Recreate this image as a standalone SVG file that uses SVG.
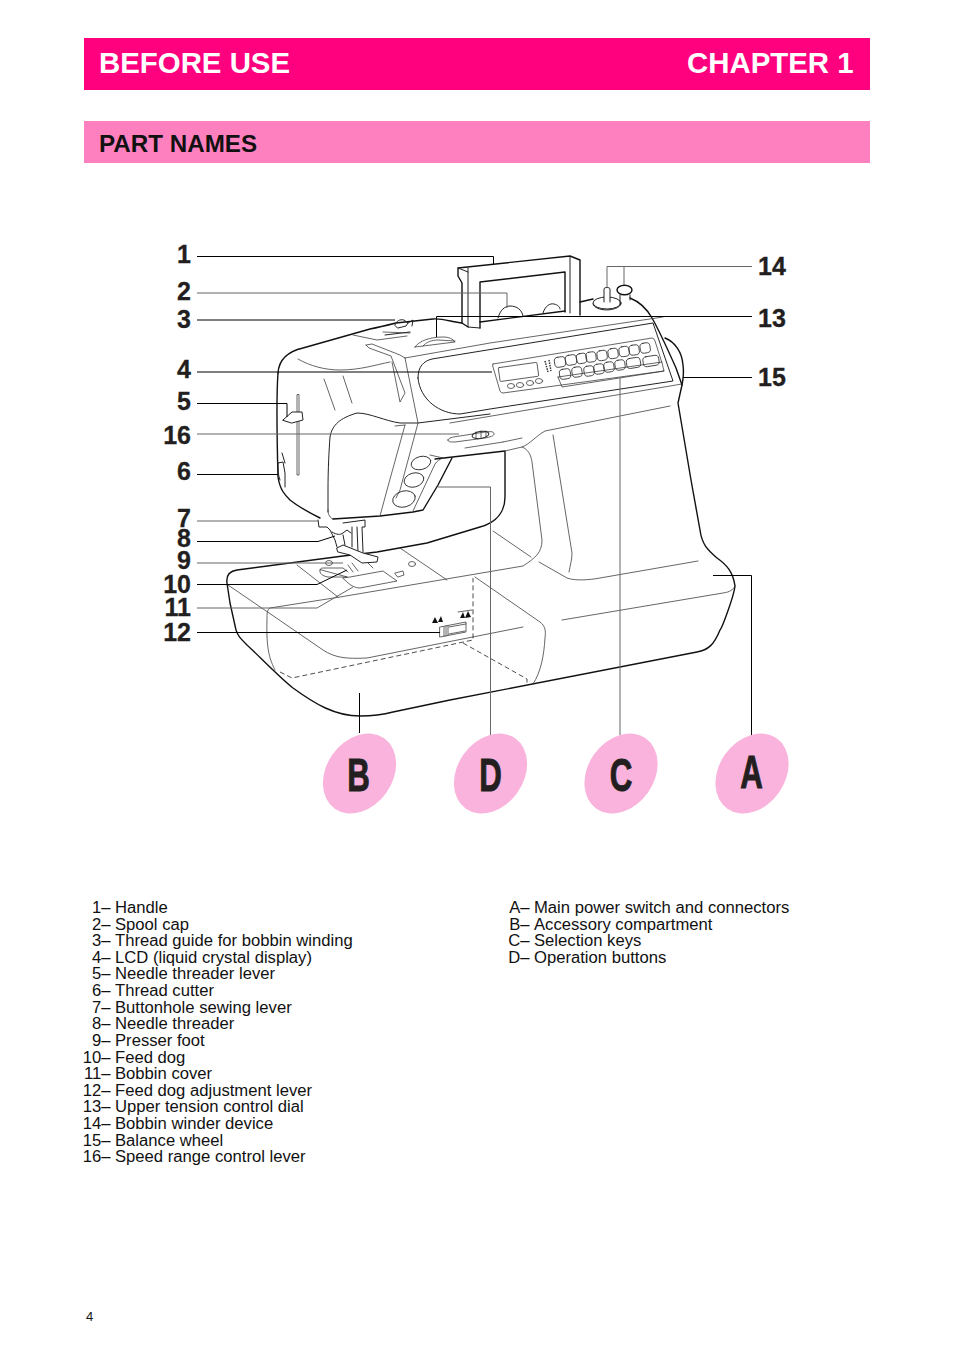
<svg xmlns="http://www.w3.org/2000/svg" width="954" height="1348" viewBox="0 0 954 1348">
<style>
text{font-family:"Liberation Sans",Arial,sans-serif;fill:#231f20}
.hd{font-weight:700;font-size:29.4px;fill:#fff}
.sec{font-weight:700;font-size:24.2px;fill:#111}
.n{font-weight:700;font-size:25px;stroke:#231f20;stroke-width:.3}
.l{font-size:16.65px;fill:#111}
.e{text-anchor:end}
.let{font-weight:700;font-size:46px;text-anchor:middle;stroke:#231f20;stroke-width:1}
.k{fill:none;stroke:#111;stroke-width:1.4;stroke-linejoin:round;stroke-linecap:round}
.t{fill:none;stroke:#333;stroke-width:.75;stroke-linejoin:round;stroke-linecap:round}
.m{fill:none;stroke:#222;stroke-width:1;stroke-linejoin:round;stroke-linecap:round}
.d{fill:none;stroke:#222;stroke-width:.8;stroke-dasharray:5 3}
.c{fill:none;stroke:#000;stroke-width:1}
.g{stroke:#666}
.blob{fill:#f9b3dc}
</style>
<rect x="84" y="38" width="786" height="52" fill="#ff007f"/>
<text class="hd" x="99" y="73">BEFORE USE</text>
<text class="hd" x="687" y="73">CHAPTER 1</text>
<rect x="84" y="121" width="786" height="42" fill="#ff80bf"/>
<text class="sec" x="99" y="152">PART NAMES</text>

<g id="machine">
<!-- main outline -->
<path class="k" d="M462,323V283L458,276V268L570,256L580,260V315"/>
<path class="k" d="M480,328V282L565,272V312"/>
<path class="m" d="M468,268V327L480,328M570,257V313M458,268L468,272"/>
<path class="k" d="M278,373C279,358 290,351 303,348L370,329C380,327 388,325 396,323L433,319C442,318 452,322 462,323L468,327"/>
<path class="k" d="M480,322L565,311M580,302L593,299M630,298C640,302 647,309 652,318C660,332 668,350 676,368L682,385L678,403L691,480L700,530C702,545 708,550 717,558C727,565 733,572 735,586C734,596 722,628 720,630C714,645 708,650 697,652L450,700L393,712C378,716 368,716 360,716C335,716 315,704 293,688C280,678 258,655 247,645C240,638 238,636 236,630L230,603L227,583C226,575 230,571 237,570L343,556L377,552L427,543L480,527C498,522 505,510 505,497V452"/>
<path class="k" d="M278,373C276,400 277,440 278,477C280,490 285,495 290,500C300,508 310,513 320,518"/>
<path class="k" d="M435,459L505,451"/>
<path class="k" d="M333,519L380,516L413,512L423,510L438,485L452,458"/>
<path class="k" d="M665,338C675,342 682,352 683,365C684,372 683,380 682,385"/>
<!-- head details -->
<path class="t" d="M298,359C310,366 325,370 340,370C360,370 375,365 390,362M324,379L335,410M343,376L352,403"/>
<path class="t" d="M366,345L372,344L400,355L405,358M366,345L369,348L391,356L405,393L400,402L392,362M405,358L418,423L400,490L396,498M405,358L490,343L663,317M405,425L387,490L380,516"/>
<path class="m" d="M328,512V490C328,470 329,450 330,437C332,425 340,418 357,413C370,413 385,421 400,423L418,423L490,414"/>
<path class="t" d="M328,510C328,515 330,518 333,519"/>
<path class="t" d="M405,425L395,426"/>
<!-- needle threader lever -->
<path class="t" d="M297,395V475L299,475V395Z"/>
<path class="m" style="fill:#fff" d="M283,420L292,412H302L303,420L292,423Z"/>
<path class="m" d="M278,463C278,470 278,475 280,480M278,463L283,462L285,473V487M282,453L285,463"/>
<!-- thread guide -->
<path class="m" d="M395,325C396,321 400,319 404,320L408,323L406,326L398,328ZM408,323L413,320L412,326M385,335L410,332"/>
<path class="t" d="M353,335L377,340L407,336M383,332L410,333"/>
<path class="t" d="M415,347C419,341 430,337 443,337C449,337 453,339 455,342L415,347ZM423,346C426,342 432,340 438,340L455,341"/>
<!-- spool caps -->
<path class="m" d="M498,318C500,310 505,306 510,306C517,306 522,310 523,316M543,313C545,306 550,303 554,304C558,305 560,307 560,309"/>
<!-- winder -->
<ellipse class="m" cx="607" cy="303" rx="14" ry="6"/>
<path class="m" d="M593,304C595,312 618,312 621,304"/>
<path class="m" style="fill:#fff" d="M604,302V289C604,287 610,287 610,289V302"/>
<path class="m" d="M620,295V305M630,295V300"/>
<ellipse class="k" style="fill:#fff" cx="624.500" cy="290" rx="7.500" ry="4.800"/>
<!-- panel -->
<path class="m" d="M418,378C418,366 424,361 432,359L653,323L673,381L490,409L460,414C440,414 420,400 418,378Z"/>
<path class="t" d="M450,423L682,384"/>
<path class="t" d="M493,364L652,338Q654,338 655,341L662,363L664,371L503,393Q501,393 500,391L493,367Q492,364 493,364Z"/>
<path class="t" d="M558,377L562,387L664,371M558,377L662,362"/>
<rect class="t" x="499" y="365" width="39" height="14" rx="1" transform="rotate(-8 518 372)"/>
<g id="small-ovals"><ellipse class="t" cx="511" cy="386" rx="3.600" ry="2.500"/><ellipse class="t" cx="520" cy="385" rx="3.600" ry="2.500"/><ellipse class="t" cx="530" cy="383" rx="3.600" ry="2.500"/><ellipse class="t" cx="539" cy="381" rx="3.600" ry="2.500"/></g>
<path class="t" style="stroke-width:1.5;stroke-dasharray:1.500 1;stroke-linecap:butt" d="M545,361L548,372M549,360L551,371"/>
<g id="keys" class="t" style="stroke-width:.85">
<rect x="554.500" y="357" width="11" height="10" rx="3.500" transform="rotate(-9 560 362)"/>
<rect x="565.500" y="355" width="11" height="10" rx="3.500" transform="rotate(-9 571 360)"/>
<rect x="576.500" y="353.500" width="10" height="10" rx="3.500" transform="rotate(-9 581 358)"/>
<rect x="586" y="352" width="10" height="10" rx="3.500" transform="rotate(-9 591 357)"/>
<rect x="597" y="350.500" width="10" height="10" rx="3.500" transform="rotate(-9 602 355)"/>
<rect x="608" y="348.500" width="10" height="10" rx="3.500" transform="rotate(-9 613 353)"/>
<rect x="619" y="346.500" width="10" height="10" rx="3.500" transform="rotate(-9 624 351)"/>
<rect x="629" y="345" width="10" height="10" rx="3.500" transform="rotate(-9 634 349)"/>
<rect x="640" y="343" width="10" height="10" rx="3.500" transform="rotate(-9 645 347)"/>
<rect x="559.500" y="369" width="11" height="10" rx="3.500" transform="rotate(-9 565 374)"/>
<rect x="572" y="367" width="10" height="10" rx="3.500" transform="rotate(-9 577 372)"/>
<rect x="584" y="366" width="10" height="10" rx="3.500" transform="rotate(-9 589 371)"/>
<rect x="594" y="364" width="10" height="10" rx="3.500" transform="rotate(-9 599 369)"/>
<rect x="604" y="362" width="10" height="10" rx="3.500" transform="rotate(-9 609 367)"/>
<rect x="615" y="360" width="10" height="10" rx="3.500" transform="rotate(-9 620 365)"/>
<rect x="626.500" y="358" width="14" height="10" rx="3.500" transform="rotate(-9 633 363)"/>
<rect x="643" y="356" width="16" height="10" rx="3.500" transform="rotate(-9 651 361)"/>
</g>
<!-- speed lever -->
<path class="t" d="M448,440C448,438 452,437 460,436L485,432C492,431 494,432 494,434C494,436 490,437 485,438L455,442C450,442 448,442 448,440ZM465,448L503,442M503,442L522,438"/>
<ellipse class="m" cx="480.500" cy="435" rx="8.500" ry="3.500" transform="rotate(-9 480 435)"/>
<path class="t" d="M476,432V438M481,431V438M486,431V437"/>
<!-- operation buttons -->
<ellipse class="t" cx="421" cy="463" rx="10" ry="6.500" transform="rotate(-15 421 463)" style="stroke-width:.9"/>
<ellipse class="t" cx="414" cy="480" rx="10" ry="7" transform="rotate(-15 414 480)" style="stroke-width:.9"/>
<ellipse class="t" cx="404" cy="499" rx="11.500" ry="8" transform="rotate(-15 404 499)" style="stroke-width:.9"/>
<path class="t" d="M430,455L443,458C440,459 437,461 435,464L413,511"/>
<!-- arm to base -->
<path class="t" d="M505,451L522,447C530,444 536,436 545,431L670,406"/>
<path class="t" d="M522,447C528,449 531,455 532,462L542,540C542,553 535,558 523,566L340,597L270,608C267,610 267,613 267,620C266,650 270,660 275,670"/>
<path class="t" d="M553,435L572,553C572,560 570,566 569,572"/>
<path class="t" d="M493,531L531,557M539,562L567,578C575,581 590,580 600,578L698,561"/>
<path class="t" d="M562,620L723,593C730,592 733,590 735,586"/>
<path class="t" d="M228,585L272,615L323,650C335,658 347,659 367,658L523,627"/>
<path class="t" d="M475,577L540,622C545,626 546,630 545,638C544,655 541,672 533,684"/>
<path class="t" d="M297,565L338,597M400,548L447,580"/>
<path class="d" d="M280,672L292,678L473,640V578M463,643L527,679V684"/>
<!-- presser foot -->
<path class="m" d="M318,520L319,527H327L330,530L335,540L337,547"/>
<path class="m" d="M343,523L365,520V527H362L363,552M357,527L358,552M352,527V547"/>
<path class="m" d="M332,532C337,535 340,535 343,533L347,530L351,533M343,535L345,545"/>
<path class="m" style="fill:#fff" d="M337,548L343,545L363,553L378,557L377,562L362,563L350,555L338,552Z"/>
<path class="t" d="M348,565L353,572M352,563L358,571M368,563L373,568"/>
<!-- needle plate -->
<ellipse class="t" cx="329" cy="563" rx="3.500" ry="2.500"/>
<ellipse class="t" cx="412" cy="564" rx="3.500" ry="2.500"/>
<path class="t" d="M395,573L403,571L404,575L398,577Z"/>
<path class="t" d="M320,570C320,568 322,568 325,568H343L348,572M347,577H328C322,576 319,573 320,570Z"/>
<path class="t" d="M343,578L350,577L383,571L397,581L360,588C355,588 350,585 347,582Z"/>
<!-- switch -->
<path class="t" d="M440,627L466,622V632L440,637Z"/>
<path class="t" d="M444,627V636M446,626V636M448,626V635M449,627L466,624M449,634L465,631"/>
<path fill="#111" d="M432,623L435,617L438,623ZM438,622L441,616L443,622ZM460,618L463,612L465,618ZM465,618L468,611L471,617Z"/>
<path class="t" d="M458,612L472,610"/>
</g>

<g id="connectors" class="c">
<path d="M197,256.500H493.500V264"/>
<path class="g" d="M197,293H507V308"/>
<path d="M197,320H395"/>
<path d="M197,372H492"/>
<path d="M197,403.500H287V417"/>
<path class="g" d="M197,434H459"/>
<path d="M197,474.500H278"/>
<path class="g" d="M197,521H319"/>
<path d="M197,541.500H318L335,536"/>
<path class="g" d="M197,563H343"/>
<path d="M197,584.500H317L347,570"/>
<path class="g" d="M197,608H317L353,587"/>
<path d="M197,632.500H440"/>
<path class="g" d="M752,266.500H607V288M624,266.500V285"/>
<path d="M752,316.500H436.500V337"/>
<path d="M752,377.500H683"/>
<path d="M713,575.500H751.500V735"/>
<path class="g" d="M620,378V735"/>
<path class="g" d="M438,487H490.500V735"/>
<path d="M359.500,693V733"/>
</g>

<g id="labels-left">
<text class="n e" x="191" y="263">1</text>
<text class="n e" x="191" y="300">2</text>
<text class="n e" x="191" y="328">3</text>
<text class="n e" x="191" y="378">4</text>
<text class="n e" x="191" y="410">5</text>
<text class="n e" x="191" y="444">16</text>
<text class="n e" x="191" y="480">6</text>
<text class="n e" x="191" y="527">7</text>
<text class="n e" x="191" y="547">8</text>
<text class="n e" x="191" y="569">9</text>
<text class="n e" x="191" y="593">10</text>
<text class="n e" x="191" y="616">11</text>
<text class="n e" x="191" y="641">12</text>
</g>
<g id="labels-right">
<text class="n" x="758" y="275">14</text>
<text class="n" x="758" y="327">13</text>
<text class="n" x="758" y="386">15</text>
</g>

<g id="node-B"><ellipse class="blob" cx="359.500" cy="773.500" rx="43" ry="33" transform="rotate(-55 359.500 773.500)"/><text class="let" transform="translate(358.500 791) scale(.68 1)">B</text></g>
<g id="node-D"><ellipse class="blob" cx="490.500" cy="773.500" rx="43" ry="33" transform="rotate(-55 490.500 773.500)"/><text class="let" transform="translate(490.500 791) scale(.68 1)">D</text></g>
<g id="node-C"><ellipse class="blob" cx="621" cy="773.500" rx="43" ry="33" transform="rotate(-55 621 773.500)"/><text class="let" transform="translate(621 791) scale(.68 1)">C</text></g>
<g id="node-A"><ellipse class="blob" cx="752" cy="773.500" rx="43" ry="33" transform="rotate(-55 752 773.500)"/><text class="let" transform="translate(751.500 788) scale(.68 1)">A</text></g>

<g id="list-left">
<text class="l e" x="110.500" y="913">1–</text><text class="l" x="115" y="913">Handle</text>
<text class="l e" x="110.500" y="929.500">2–</text><text class="l" x="115" y="929.500">Spool cap</text>
<text class="l e" x="110.500" y="946">3–</text><text class="l" x="115" y="946">Thread guide for bobbin winding</text>
<text class="l e" x="110.500" y="963">4–</text><text class="l" x="115" y="963">LCD (liquid crystal display)</text>
<text class="l e" x="110.500" y="979">5–</text><text class="l" x="115" y="979">Needle threader lever</text>
<text class="l e" x="110.500" y="996">6–</text><text class="l" x="115" y="996">Thread cutter</text>
<text class="l e" x="110.500" y="1013">7–</text><text class="l" x="115" y="1013">Buttonhole sewing lever</text>
<text class="l e" x="110.500" y="1029">8–</text><text class="l" x="115" y="1029">Needle threader</text>
<text class="l e" x="110.500" y="1046">9–</text><text class="l" x="115" y="1046">Presser foot</text>
<text class="l e" x="110.500" y="1063">10–</text><text class="l" x="115" y="1063">Feed dog</text>
<text class="l e" x="110.500" y="1079">11–</text><text class="l" x="115" y="1079">Bobbin cover</text>
<text class="l e" x="110.500" y="1096">12–</text><text class="l" x="115" y="1096">Feed dog adjustment lever</text>
<text class="l e" x="110.500" y="1112">13–</text><text class="l" x="115" y="1112">Upper tension control dial</text>
<text class="l e" x="110.500" y="1129">14–</text><text class="l" x="115" y="1129">Bobbin winder device</text>
<text class="l e" x="110.500" y="1146">15–</text><text class="l" x="115" y="1146">Balance wheel</text>
<text class="l e" x="110.500" y="1162">16–</text><text class="l" x="115" y="1162">Speed range control lever</text>
</g>
<g id="list-right">
<text class="l e" x="529.500" y="913">A–</text><text class="l" x="534" y="913">Main power switch and connectors</text>
<text class="l e" x="529.500" y="929.500">B–</text><text class="l" x="534" y="929.500">Accessory compartment</text>
<text class="l e" x="529.500" y="946">C–</text><text class="l" x="534" y="946">Selection keys</text>
<text class="l e" x="529.500" y="963">D–</text><text class="l" x="534" y="963">Operation buttons</text>
</g>
<text x="86" y="1321" font-size="13" style="fill:#111">4</text>
</svg>
